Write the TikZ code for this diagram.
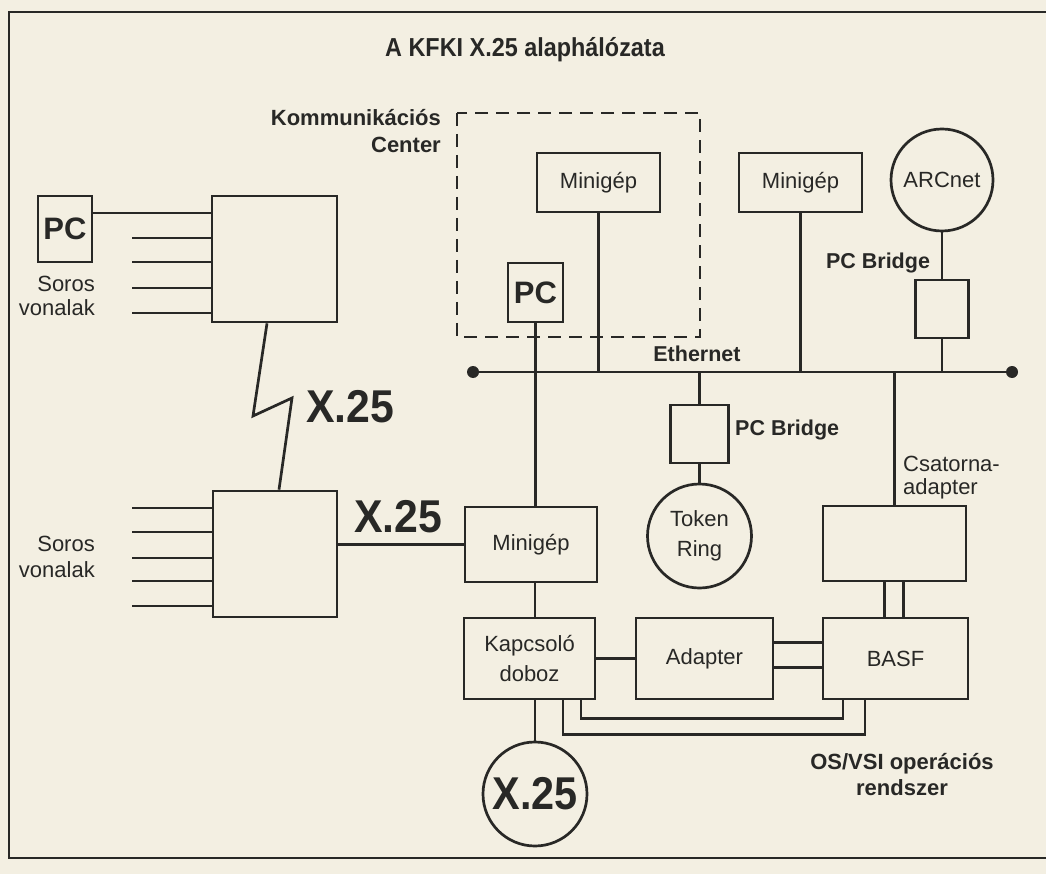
\documentclass[tikz,border=0pt]{standalone}
\usepackage{fontspec}
\setmainfont{Liberation Sans}
\definecolor{paper}{RGB}{243,239,226}
\definecolor{ink}{RGB}{40,40,38}
\newcommand{\cond}[2]{\scalebox{#1}[1]{#2}}
\begin{document}
\begin{tikzpicture}[x=1pt,y=-1pt,
  ink lines/.style={draw=ink,line width=2.7pt},
  box/.style={ink lines,rectangle,inner sep=0pt,text=ink,font=\fontsize{22}{30}\selectfont,align=center},
  ring/.style={ink lines,circle,inner sep=0pt,text=ink,font=\fontsize{22}{30}\selectfont,align=center},
  wire/.style={ink lines,line cap=butt},
  lbl/.style={text=ink,inner sep=0pt,font=\fontsize{21.5}{25}\selectfont\bfseries},
  big/.style={text=ink,inner sep=0pt,font=\fontsize{46}{48}\selectfont\bfseries},
  plain/.style={text=ink,inner sep=0pt,font=\fontsize{22}{24}\selectfont}]
\useasboundingbox (0,0) rectangle (1046,874);
\fill[paper] (0,0) rectangle (1046,874);
% frame
\draw[ink lines] (1046,12) -- (9,12) -- (9,858) -- (1046,858);
% title
\node[text=ink,font=\fontsize{26}{28}\selectfont\bfseries] (title) at (525,50) {\cond{0.9}{A KFKI X.25 alaphálózata}};
% left side
\node[box,minimum width=54,minimum height=66,font=\fontsize{31}{34}\selectfont\bfseries] (pcL) at (65,229) {PC};
\node[box,minimum width=125,minimum height=126] (sw1) at (274.5,259) {};
\node[box,minimum width=124,minimum height=126] (sw2) at (275,554) {};
\node[plain,anchor=east,align=right,font=\fontsize{22}{24.5}\selectfont] (sor1) at (95,296) {Soros\\vonalak};
\node[plain,anchor=east,align=right,font=\fontsize{22}{25.5}\selectfont] (sor2) at (95,557) {Soros\\vonalak};
\draw[wire] (pcL.east |- 0,213) -- (sw1.west |- 0,213);
\foreach \yy [count=\i] in {238,262,288,313} {
  \coordinate (a\i) at (132,\yy);
  \draw[wire] (a\i) -- (a\i -| sw1.west);
}
\foreach \yy [count=\i] in {508,532,558,581,606} {
  \coordinate (b\i) at (132,\yy);
  \draw[wire] (b\i) -- (b\i -| sw2.west);
}
\coordinate (z1) at (253,416);
\coordinate (z2) at (292,398);
\draw[wire,line join=miter] ([xshift=-7.5pt]sw1.south) -- (z1) -- (z2) -- ([xshift=4pt]sw2.north);
\node[big] (x25a) at (350,407) {\cond{0.93}{X.25}};
\node[big] (x25b) at (398,517) {\cond{0.93}{X.25}};
% Kommunikacios center
\node[lbl,anchor=east,align=right,font=\fontsize{22}{27}\selectfont\bfseries] (kc) at (441,131) {Kommunikációs\\Center};
\draw[draw=ink,line width=2.7pt,dash pattern=on 13pt off 8pt] (457,113) rectangle (700,337);
\node[box,minimum width=123,minimum height=59] (mg1) at (598.5,182.5) {Minigép};
\node[box,minimum width=55,minimum height=59,font=\fontsize{31}{34}\selectfont\bfseries] (pc2) at (535.5,292.5) {PC};
% right top
\node[box,minimum width=123,minimum height=59] (mg2) at (800.5,182.5) {Minigép};
\node[ring,minimum size=102] (arc) at (942,180) {ARCnet};
\node[box,minimum width=53,minimum height=58] (br1) at (942,309) {};
\node[lbl] (br1l) at (878,263) {PC Bridge};
% Ethernet
\coordinate (eL) at (473,372);
\coordinate (eR) at (1012,372);
\draw[wire] (eL) -- (eR);
\fill[ink] (eL) circle (6);
\fill[ink] (eR) circle (6);
\node[lbl] (eth) at (697,354) {Ethernet};
\draw[wire] (mg1.south) -- (mg1.south |- eL);
\draw[wire] (mg2.south) -- (mg2.south |- eL);
\draw[wire] (arc.south) -- (br1.north);
\draw[wire] (br1.south) -- (br1.south |- eL);
% token ring branch
\node[box,minimum width=58,minimum height=58] (br2) at (699.5,434) {};
\node[lbl,anchor=west] (br2l) at (735,430) {PC Bridge};
\node[ring,minimum size=104] (tr) at (699.5,536) {Token\\Ring};
\draw[wire] (br2.north |- eL) -- (br2.north);
\draw[wire] (br2.south) -- (tr.north);
% lower part
\node[box,minimum width=132,minimum height=75] (mg3) at (531,544.5) {Minigép};
\draw[wire] (pc2.south) -- (pc2.south |- mg3.north);
\draw[wire] (mg3.west) -- (mg3.west -| sw2.east);
\node[box,minimum width=143,minimum height=75] (ca) at (894.5,543.5) {};
\node[plain,anchor=west,align=left,font=\fontsize{22}{23}\selectfont] (cal) at (903,478) {Csatorna-\\adapter};
\draw[wire] (ca.north |- eL) -- (ca.north);
\node[box,minimum width=131,minimum height=81] (ks) at (529.5,658.5) {Kapcsoló\\doboz};
\node[box,minimum width=137,minimum height=81] (ad) at (704.5,658.5) {Adapter};
\node[box,minimum width=145,minimum height=81] (basf) at (895.5,658.5) {BASF};
\draw[wire] ([xshift=4pt]mg3.south) -- ([xshift=4pt]mg3.south |- ks.north);
\draw[wire] ([xshift=-10pt]ca.south) -- ([xshift=-10pt]ca.south |- basf.north);
\draw[wire] ([xshift=9pt]ca.south) -- ([xshift=9pt]ca.south |- basf.north);
\draw[wire] (ks.east) -- (ad.west);
\draw[wire] ([yshift=16pt]ad.east) -- ([yshift=16pt]ad.east -| basf.west);
\draw[wire] ([yshift=-9pt]ad.east) -- ([yshift=-9pt]ad.east -| basf.west);
\draw[wire,line join=miter] ([xshift=51.5pt]ks.south) -- ++(0,18) -| ([xshift=-52.5pt]basf.south);
\draw[wire,line join=miter] ([xshift=33.5pt]ks.south) -- ++(0,34) -| ([xshift=-30.5pt]basf.south);
\node[ring,minimum size=104,font=\fontsize{46}{48}\selectfont\bfseries] (x25c) at (535,794) {\cond{0.9}{X.25}};
\draw[wire] (x25c.north) -- (x25c.north |- ks.south);
\node[lbl,align=center,font=\fontsize{22}{26}\selectfont\bfseries] (os) at (902,775) {OS/VSI operációs\\rendszer};
\end{tikzpicture}
\end{document}
